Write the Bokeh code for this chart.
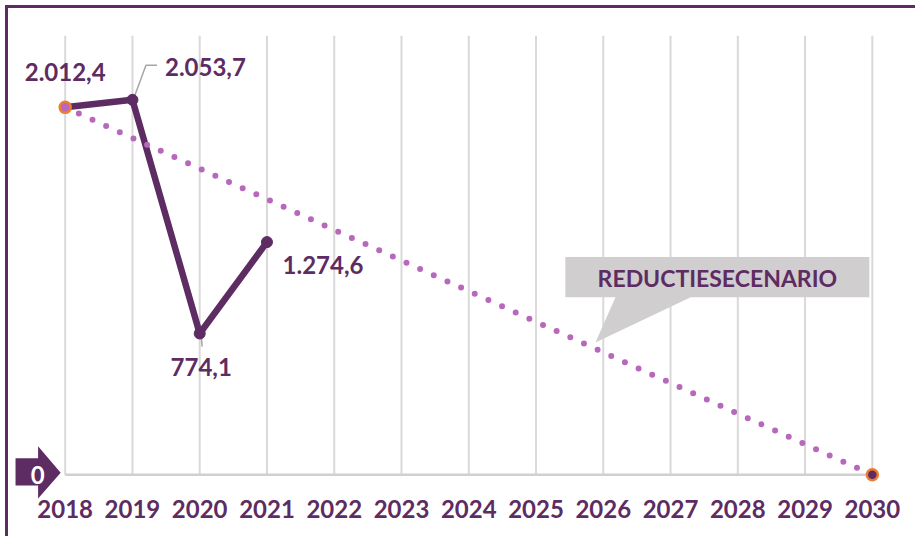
from bokeh.plotting import figure
from bokeh.models import FixedTicker, Range1d
from bokeh.core.properties import value
from bokeh.embed import file_html
from bokeh.resources import INLINE

# ---- data ----
axis_years = list(range(2018, 2031))
tick_labels = [str(y) for y in axis_years]
actual_years = [2018, 2019, 2020, 2021]
actual_values = [2012.4, 2053.7, 774.1, 1274.6]
actual_labels = ["2.012,4", "2.053,7", "774,1", "1.274,6"]
scenario_years = [2018, 2030]
scenario_values = [2012.4, 0.0]
callout_text = "REDUCTIESECENARIO"
zero_label = "0"

# ---- style ----
DARK = "#5D2C62"
ORCHID = "#B868BC"
ORANGE = "#ED7D31"
GRID = "#D9D9D9"
CALLOUT = "#D0CECE"
FONT = "Lato"

# page-pixel -> data helpers (layout only); canvas starts at page (8, 8)
XS = 67.04      # px per year
YS = 0.1815     # px per unit
def X(px):
    return 2018 + (px - 64.5) / XS
def Y(py):
    return (471.5 - py) / YS

p = figure(width=907, height=528,
           x_range=Range1d(X(8), X(915)), y_range=Range1d(Y(496), Y(8)),
           min_border_left=0, min_border_right=0, min_border_top=0, min_border_bottom=40,
           output_backend="svg", toolbar_location=None, y_axis_location=None)
p.styles = {"margin-left": "5px", "margin-top": "5px",
            "border-left": "3px solid " + DARK, "border-top": "3px solid " + DARK,
            "box-sizing": "content-box"}
p.outline_line_color = None
p.xgrid.visible = False
p.ygrid.visible = False
p.background_fill_color = "white"
p.border_fill_color = "white"

ax = p.xaxis[0]
ax.ticker = FixedTicker(ticks=axis_years)
ax.major_label_overrides = {y: t for y, t in zip(axis_years, tick_labels)}
ax.axis_line_color = None
ax.major_tick_line_color = None
ax.minor_tick_line_color = None
ax.major_tick_in = 0
ax.major_tick_out = 0
ax.major_label_standoff = 0
ax.major_label_text_font = FONT
ax.major_label_text_font_style = "bold"
ax.major_label_text_font_size = "24px"
ax.major_label_text_color = DARK

# vertical gridlines
top = Y(35)
p.segment(x0=axis_years, y0=[0] * len(axis_years), x1=axis_years, y1=[top] * len(axis_years),
          line_color=GRID, line_width=2)
# zero line
p.line([axis_years[0], axis_years[-1]], [0, 0], line_color="#D0D0D0", line_width=2.5)

# "0" arrow marker
p.patch([X(15), X(37.5), X(37.5), X(60), X(37.5), X(37.5), X(15)],
        [Y(455), Y(455), Y(443), Y(469.5), Y(495), Y(482), Y(482)],
        fill_color=DARK, line_color=None)
p.text(x=[X(37)], y=[0], text=[zero_label], text_color="white", text_font=value(FONT),
       text_font_style="bold", text_font_size="24px", text_align="center", text_baseline="middle")

# callout
p.patch([X(563), X(866), X(866), X(688), X(593), X(613), X(563)],
        [Y(255), Y(255), Y(295), Y(295), Y(340), Y(295), Y(295)],
        fill_color=CALLOUT, line_color=None)
p.text(x=[X(714.5)], y=[Y(276)], text=[callout_text], text_color=DARK, text_font=value(FONT),
       text_font_style="bold", text_font_size="23px", text_align="center", text_baseline="middle")

# leader lines
p.line([X(133), X(145), X(156)], [Y(97), Y(64.5), Y(64.5)], line_color="#A6A6A6", line_width=1.5)
p.line([X(200), X(201)], [Y(332), Y(344)], line_color="#A6A6A6", line_width=1.5)

# actual series
p.line(actual_years, actual_values, line_color=DARK, line_width=6.5, line_join="round")
p.scatter(actual_years[1:], actual_values[1:], size=11, fill_color=DARK, line_color=DARK)

# scenario dotted line
p.line(scenario_years, scenario_values, line_color=ORCHID, line_width=6,
       line_dash="0 15", line_cap="round")
p.scatter(scenario_years, scenario_values, size=11, fill_color=[ORCHID, DARK],
          line_color=ORANGE, line_width=2.5)

# value labels
p.text(x=actual_years, y=actual_values, text=actual_labels,
       x_offset=[0, 73, 1.5, 56], y_offset=[-35, -33, 34, 23],
       text_color=DARK, text_font=value(FONT), text_font_style="bold",
       text_font_size="24px", text_align="center", text_baseline="middle")

open("out.html", "w").write(file_html(p, INLINE))
